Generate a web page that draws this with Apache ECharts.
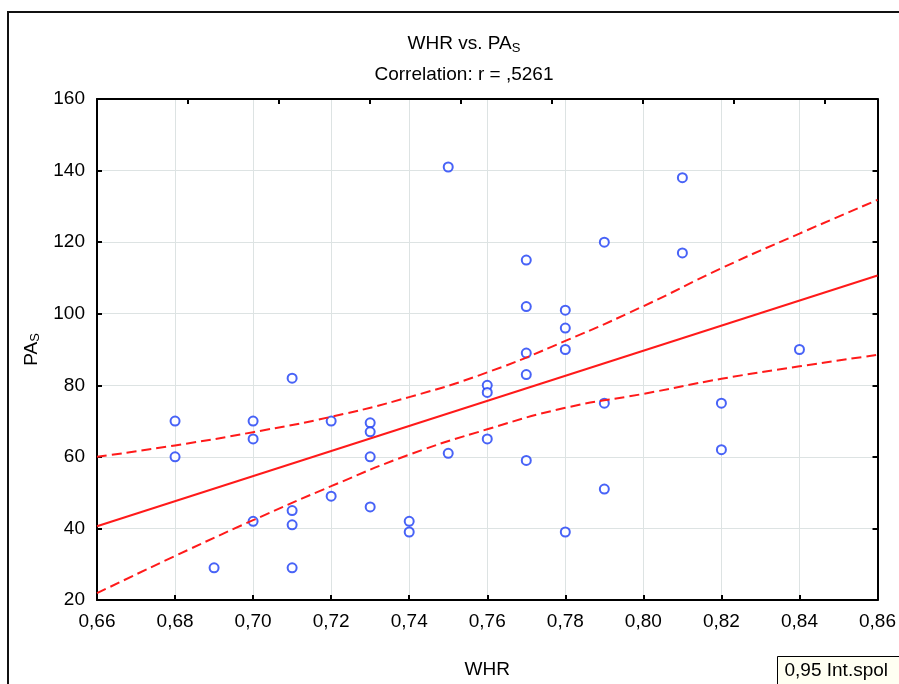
<!DOCTYPE html>
<html>
<head>
<meta charset="utf-8">
<script src="https://cdn.jsdelivr.net/npm/echarts@6/dist/echarts.min.js"></script>
<style>
  html, body { margin: 0; padding: 0; background: #fff; }
  #chart { width: 899px; height: 684px; }
</style>
</head>
<body>
<div id="chart"></div>
<script>
// punkty WHR / PAs
var whr = [0.68, 0.68, 0.69, 0.70, 0.70, 0.70, 0.71, 0.71, 0.71, 0.71,
           0.72, 0.72, 0.73, 0.73, 0.73, 0.73, 0.74, 0.74, 0.75, 0.75,
           0.76, 0.76, 0.76, 0.77, 0.77, 0.77, 0.77, 0.77, 0.78, 0.78,
           0.78, 0.78, 0.79, 0.79, 0.79, 0.81, 0.81, 0.82, 0.82, 0.84];
var pas = [70, 60, 29, 70, 65, 42, 82, 45, 41, 29,
           70, 49, 69.5, 67, 60, 46, 42, 39, 141, 61,
           80, 78, 65, 115, 102, 89, 83, 59, 101, 96,
           90, 39, 120, 75, 51, 138, 117, 75, 62, 90];

// prosta regresji
var fitX = [0.66, 0.86];
var fitY = [40.6, 110.7];

// przedzial ufnosci 0,95
var ciX = [0.66, 0.68, 0.70, 0.72, 0.74, 0.76, 0.78, 0.80, 0.82, 0.84, 0.86];
var ciUp = [60.0, 63.2, 66.9, 71.2, 76.7, 83.6, 92.4, 102.1, 112.7, 122.4, 131.8];
var ciLow = [21.9, 32.3, 42.3, 51.8, 60.6, 67.7, 73.7, 77.6, 81.8, 85.3, 88.5];

var FONT = '"Liberation Sans", Arial, sans-serif';
var FS = 19;

function zip(a, b) {
  return a.map(function (v, i) { return [v, b[i]]; });
}

var myChart = echarts.init(document.getElementById('chart'));
var option = {
  backgroundColor: '#fff',
  animation: false,
  title: [
    {
      text: '{a|WHR vs. PA}{b|S}',
      left: 459, top: 28, textAlign: 'center',
      textStyle: {
        rich: {
          a: { fontFamily: FONT, fontSize: FS, fontWeight: 'normal', color: '#000', lineHeight: 22 },
          b: { fontFamily: FONT, fontSize: 13, fontWeight: 'normal', color: '#000', lineHeight: 22, padding: [9, 0, 0, 0] }
        }
      }
    },
    {
      text: 'Correlation: r = ,5261',
      left: 459, top: 60, textAlign: 'center',
      textStyle: { fontFamily: FONT, fontSize: FS, fontWeight: 'normal', color: '#000' }
    }
  ],
  grid: { left: 97, top: 99, right: 19, bottom: 79, containLabel: false },
  xAxis: [
    {
      type: 'value', min: 0.66, max: 0.86, interval: 0.02,
      name: 'WHR', nameLocation: 'middle', nameGap: 60,
      nameTextStyle: { fontFamily: FONT, fontSize: FS, color: '#000' },
      axisLine: { show: true, onZero: false, lineStyle: { color: '#000', width: 2 } },
      axisTick: { show: true, inside: true, length: 5, lineStyle: { color: '#000', width: 2 } },
      axisLabel: {
        fontFamily: FONT, fontSize: FS, color: '#000', margin: 12,
        formatter: function (v) { return v.toFixed(2).replace('.', ','); }
      },
      splitLine: { show: true, lineStyle: { color: '#dde3e3', width: 1 } }
    },
    {
      // gorna os - same znaczniki
      type: 'value', position: 'top', min: 0, max: 8.576, interval: 1,
      axisLine: { show: true, onZero: false, lineStyle: { color: '#000', width: 2 } },
      axisTick: { show: true, inside: true, length: 5, lineStyle: { color: '#000', width: 2 } },
      axisLabel: { show: false },
      splitLine: { show: false }
    }
  ],
  yAxis: [
    {
      type: 'value', min: 20, max: 160, interval: 20,
      name: '{a|PA}{b|S}', nameLocation: 'middle', nameGap: 52, nameRotate: 90,
      nameTextStyle: {
        rich: {
          a: { fontFamily: FONT, fontSize: FS, color: '#000', lineHeight: 22 },
          b: { fontFamily: FONT, fontSize: 13, color: '#000', lineHeight: 22, padding: [9, 0, 0, 0] }
        }
      },
      axisLine: { show: true, onZero: false, lineStyle: { color: '#000', width: 2 } },
      axisTick: { show: true, inside: true, length: 5, lineStyle: { color: '#000', width: 2 } },
      axisLabel: { fontFamily: FONT, fontSize: FS, color: '#000', margin: 12 },
      splitLine: { show: true, lineStyle: { color: '#dde3e3', width: 1 } }
    },
    {
      type: 'value', position: 'right', min: 20, max: 160, interval: 20,
      axisLine: { show: true, onZero: false, lineStyle: { color: '#000', width: 2 } },
      axisTick: { show: true, inside: true, length: 5, lineStyle: { color: '#000', width: 2 } },
      axisLabel: { show: false },
      splitLine: { show: false }
    }
  ],
  series: [
    {
      name: 'fit', type: 'line', data: zip(fitX, fitY),
      showSymbol: false, symbol: 'none',
      lineStyle: { color: '#ff1a1a', width: 2 }
    },
    {
      name: 'ciUp', type: 'line', data: zip(ciX, ciUp), smooth: true,
      showSymbol: false, symbol: 'none',
      lineStyle: { color: '#ff1a1a', width: 2, type: [10, 5] }
    },
    {
      name: 'ciLow', type: 'line', data: zip(ciX, ciLow), smooth: true,
      showSymbol: false, symbol: 'none',
      lineStyle: { color: '#ff1a1a', width: 2, type: [10, 5] }
    },
    {
      name: 'punkty', type: 'scatter', data: zip(whr, pas),
      symbol: 'emptyCircle', symbolSize: 9,
      itemStyle: { color: '#1a3cf5', borderColor: '#1a3cf5', borderWidth: 2.2 }
    }
  ],
  graphic: [
    {
      // ramka wykresu
      type: 'rect', silent: true,
      shape: { x: 8, y: 12, width: 1000, height: 1000 },
      style: { fill: 'none', stroke: '#111', lineWidth: 2 }
    },
    {
      type: 'group', left: 777, top: 656,
      children: [
        {
          type: 'rect',
          shape: { x: 0, y: 0, width: 140, height: 40 },
          style: { fill: '#fffff2', stroke: '#000', lineWidth: 1 }
        },
        {
          type: 'text', x: 7, y: 5,
          style: { text: '0,95 Int.spol', fontFamily: FONT, fontSize: FS, fill: '#000' }
        }
      ]
    }
  ]
};
// rysowanie
myChart.setOption(option);
</script>
</body>
</html>
